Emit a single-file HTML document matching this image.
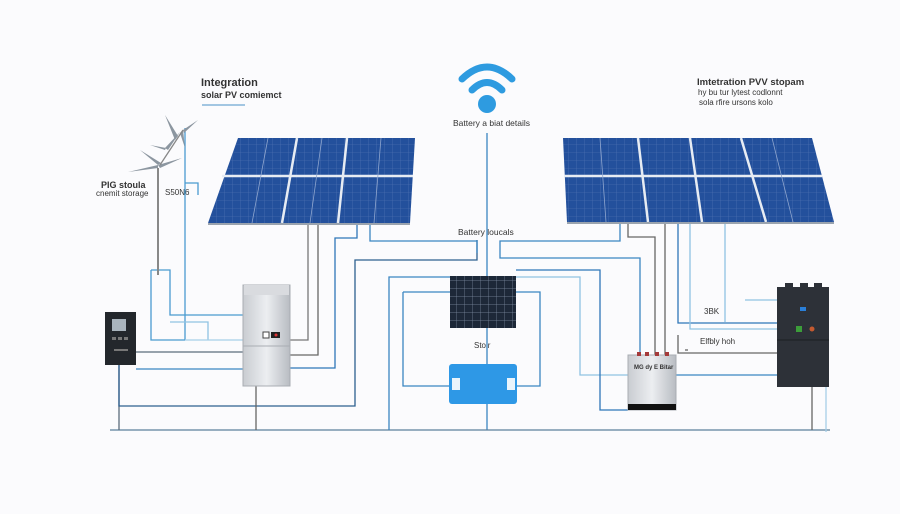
<!DOCTYPE html>
<html><head><meta charset="utf-8"><style>
html,body{margin:0;padding:0;background:#fbfbfd;}
svg{display:block}
text{font-family:"Liberation Sans",sans-serif;fill:#333}
</style></head><body>
<svg width="900" height="514" viewBox="0 0 900 514" xmlns="http://www.w3.org/2000/svg">
<defs>
<pattern id="cells" width="8" height="8" patternUnits="userSpaceOnUse">
<rect width="8" height="8" fill="#23509c"/><path d="M0 0H8M0 0V8" stroke="#5577b5" stroke-width="0.6"/>
</pattern>
<pattern id="cells2" width="8" height="8" patternUnits="userSpaceOnUse">
<rect width="8" height="8" fill="#1d2838"/><path d="M0 0H8M0 0V8" stroke="#7f8ea3" stroke-width="0.7"/>
</pattern>
<linearGradient id="gr" x1="0" x2="1"><stop offset="0" stop-color="#c9ccd1"/><stop offset=".5" stop-color="#eceef1"/><stop offset="1" stop-color="#b8bcc2"/></linearGradient>
</defs>
<rect width="900" height="514" fill="#fbfbfd"/>

<!-- texts -->
<text x="201" y="86" font-size="11" font-weight="bold">Integration</text>
<text x="201" y="98" font-size="9" font-weight="bold">solar PV comiemct</text>
<line x1="202" y1="105" x2="245" y2="105" stroke="#4a90c8" stroke-width="1"/>
<text x="697" y="85" font-size="9.5" font-weight="bold">Imtetration PVV stopam</text>
<text x="698" y="95" font-size="8">hy bu tur lytest codlonnt</text>
<text x="699" y="105" font-size="8">sola rfire ursons kolo</text>
<text x="453" y="126" font-size="8.5">Battery a biat details</text>
<text x="458" y="235" font-size="8.5">Battery loucals</text>
<text x="101" y="188" font-size="9" font-weight="bold">PIG stoula</text>
<text x="96" y="196" font-size="8">cnemit storage</text>
<text x="165" y="195" font-size="8">S50N6</text>
<text x="474" y="348" font-size="8">Stolr</text>
<text x="704" y="314" font-size="8">3BK</text>
<text x="700" y="344" font-size="8">Elfbly hoh</text>

<!-- wifi -->
<g fill="none" stroke="#2e9be0" stroke-width="7" stroke-linecap="round">
<path d="M462 79 Q487 55 512 79"/><path d="M472 90 Q487 75 502 90"/>
</g>
<circle cx="487" cy="104" r="9" fill="#2e9be0"/>

<!-- wires -->
<g fill="none" stroke-width="1.3">
<path d="M487 133V430" stroke="#3b86c2"/>
<path d="M110 430H830" stroke="#5b7f9c"/>
<path d="M185 128V340" stroke="#4a9bd0"/>
<path d="M185 183H198V195" stroke="#4a9bd0"/>
<path d="M158 200V270" stroke="#888"/>
<path d="M151 270H170V315H243" stroke="#4a9bd0"/>
<path d="M151 270V340H185" stroke="#4a9bd0"/>
<path d="M170 322H208V340" stroke="#8fc3e3"/>
<path d="M185 340H243" stroke="#a6cfe8"/>
<path d="M136 352H243" stroke="#5b6c7c"/>
<path d="M119 365V430" stroke="#5b6c7c"/>
<path d="M136 369H243" stroke="#3b86c2"/>
<path d="M119 365V406H355V260H477V240" stroke="#2d5f8f"/>
<path d="M308 223V340H290" stroke="#777"/>
<path d="M318 223V355H290" stroke="#666"/>
<path d="M357 223V238H335V368H290" stroke="#2e76b8"/>
<path d="M370 223V241H477V253" stroke="#3b86c2"/>
<path d="M256 386V430" stroke="#666"/>
<path d="M389 430V277H450" stroke="#3b86c2"/>
<path d="M403 292V386H449" stroke="#3b86c2"/>
<path d="M403 292H450" stroke="#3b86c2"/>
<path d="M516 292H540V386H517" stroke="#3b86c2"/>
<path d="M516 277H580V375H628" stroke="#8fc3e3"/>
<path d="M516 270H600V410H628" stroke="#2e76b8"/>
<path d="M620 222V241H500V258H640V355" stroke="#3b86c2"/>
<path d="M628 222V237H655V355" stroke="#666"/>
<path d="M665 222V355" stroke="#666"/>
<path d="M678 222V323H777" stroke="#2e76b8"/>
<path d="M690 222V329H777" stroke="#8fc3e3"/>
<path d="M725 222V322" stroke="#8fc3e3"/>
<path d="M685 350H688" stroke="#666"/>
<path d="M678 335V353H777" stroke="#666"/>
<path d="M676 375H777" stroke="#3b86c2"/>
<path d="M745 300H777" stroke="#8fc3e3"/>
<path d="M812 387V430" stroke="#666"/>
<path d="M826 387V432" stroke="#a6cfe8"/>
</g>

<!-- wind turbine -->
<g stroke="#888" fill="#8c96a0">
<line x1="158" y1="168" x2="158" y2="275" stroke-width="2"/>
<path d="M158 168 L128 172 L158 165Z" stroke="none"/>
<path d="M158 165 L182 158 L160 168Z" stroke="none"/>
<path d="M158 165 L140 150 L161 163Z" stroke="none"/>
<path d="M165 150 L150 145 L166 148Z" stroke="none"/>
<path d="M165 148 L180 132 L168 150Z" stroke="none"/>
<path d="M175 140 L165 115 L178 136Z" stroke="none"/>
<path d="M183 130 L198 120 L184 133Z" stroke="none"/>
<path d="M183 130 L185 148 L180 133Z" stroke="none"/>
<line x1="160" y1="165" x2="183" y2="130" stroke-width="1.3"/>
</g>

<!-- left solar panel -->
<polygon points="238,138 415,138 410,223 208,223" fill="url(#cells)"/>
<g stroke="#e7ecf3" stroke-width="2.5"><line x1="222" y1="176" x2="413" y2="176"/><line x1="297" y1="138" x2="282" y2="223"/><line x1="347" y1="138" x2="338" y2="223"/></g>
<g stroke="#8fa6cf" stroke-width="0.8"><line x1="268" y1="138" x2="252" y2="223"/><line x1="322" y1="138" x2="310" y2="223"/><line x1="381" y1="138" x2="374" y2="223"/></g>
<line x1="208" y1="224" x2="410" y2="224" stroke="#9aa3ae" stroke-width="2"/>

<!-- right solar panel -->
<polygon points="563,138 812,138 834,222 567,222" fill="url(#cells)"/>
<g stroke="#e7ecf3" stroke-width="2.5"><line x1="564" y1="176" x2="822" y2="176"/><line x1="638" y1="138" x2="648" y2="222"/><line x1="690" y1="138" x2="702" y2="222"/><line x1="741" y1="138" x2="766" y2="222"/></g>
<g stroke="#8fa6cf" stroke-width="0.8"><line x1="600" y1="138" x2="606" y2="222"/><line x1="772" y1="138" x2="793" y2="222"/></g>
<line x1="567" y1="223" x2="834" y2="223" stroke="#9aa3ae" stroke-width="2"/>

<!-- controller -->
<rect x="105" y="312" width="31" height="53" fill="#23272c"/>
<rect x="112" y="319" width="14" height="12" fill="#a9b4bd"/>
<g fill="#777"><rect x="112" y="337" width="4" height="3"/><rect x="118" y="337" width="4" height="3"/><rect x="124" y="337" width="4" height="3"/><rect x="114" y="349" width="14" height="2"/></g>

<!-- inverter -->
<rect x="243" y="285" width="47" height="101" fill="url(#gr)" stroke="#a9adb3"/>
<rect x="244" y="285" width="45" height="10" fill="#d9dbdf"/>
<line x1="243" y1="346" x2="290" y2="346" stroke="#a9adb3"/>
<rect x="263" y="332" width="6" height="6" fill="#fff" stroke="#444"/>
<rect x="271" y="332" width="9" height="6" fill="#222"/><circle cx="276" cy="335" r="1.5" fill="#d33"/>

<!-- middle panel -->
<rect x="450" y="276" width="66" height="52" fill="url(#cells2)"/>

<!-- blue battery -->
<rect x="449" y="364" width="68" height="40" rx="3" fill="#2e98e6"/>
<rect x="452" y="378" width="8" height="12" fill="#e9f4fc"/>
<rect x="507" y="378" width="8" height="12" fill="#e9f4fc"/>

<!-- right battery -->
<rect x="628" y="355" width="48" height="55" fill="url(#gr)" stroke="#a9adb3"/>
<rect x="628" y="404" width="48" height="6" fill="#111"/>
<g fill="#a43a3a"><rect x="637" y="352" width="4" height="4"/><rect x="645" y="352" width="4" height="4"/><rect x="655" y="352" width="4" height="4"/><rect x="665" y="352" width="4" height="4"/></g>
<text x="634" y="369" font-size="6" font-weight="bold">MG dy E Bitar</text>

<!-- right cabinet -->
<rect x="777" y="287" width="52" height="100" fill="#2d3138"/>
<rect x="785" y="283" width="8" height="5" fill="#2d3138"/><rect x="800" y="283" width="8" height="5" fill="#2d3138"/><rect x="814" y="283" width="8" height="5" fill="#2d3138"/>
<line x1="777" y1="340" x2="829" y2="340" stroke="#1b1e22"/>
<rect x="800" y="307" width="6" height="4" fill="#2a7fd8"/>
<rect x="796" y="326" width="6" height="6" fill="#3c9d3a"/>
<circle cx="812" cy="329" r="2.5" fill="#c45a30"/>
</svg>
</body></html>
